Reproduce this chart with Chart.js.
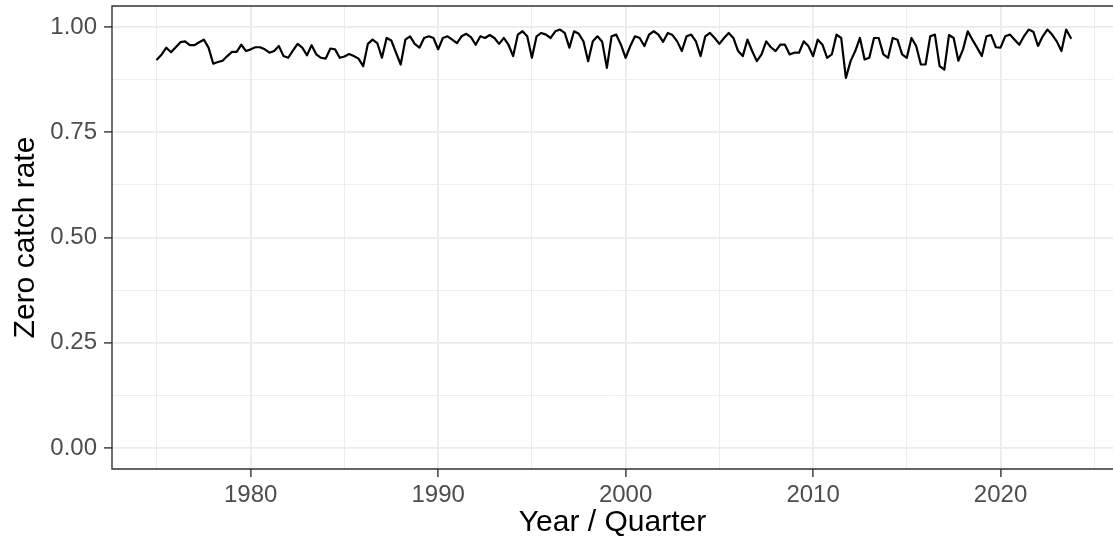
<!DOCTYPE html>
<html>
<head>
<meta charset="utf-8">
<script src="https://cdn.jsdelivr.net/npm/chart.js@4/dist/chart.umd.min.js"></script>
<style>
  html, body { margin: 0; padding: 0; background: #ffffff; overflow: hidden; }
  #wrap { width: 1113px; height: 545px; }
</style>
</head>
<body>
<div id="wrap"><canvas id="chart" width="1113" height="545"></canvas></div>
<script>
// Quarterly zero catch rate, one array per five-year block (Q1..Q4 per year)
const firstYear = 1975;
const rates1975 = [0.923, 0.935, 0.951, 0.940, 0.952, 0.964, 0.966, 0.957, 0.957, 0.964,
                   0.970, 0.951, 0.913, 0.917, 0.920, 0.931, 0.941, 0.941, 0.958, 0.943];
const rates1980 = [0.947, 0.952, 0.952, 0.947, 0.939, 0.943, 0.955, 0.931, 0.927, 0.944,
                   0.960, 0.951, 0.933, 0.957, 0.935, 0.927, 0.925, 0.949, 0.947, 0.927];
const rates1985 = [0.930, 0.936, 0.931, 0.925, 0.907, 0.960, 0.970, 0.962, 0.927, 0.974,
                   0.968, 0.939, 0.911, 0.970, 0.978, 0.960, 0.951, 0.974, 0.978, 0.974];
const rates1990 = [0.947, 0.974, 0.978, 0.970, 0.962, 0.978, 0.984, 0.976, 0.958, 0.978,
                   0.974, 0.981, 0.974, 0.960, 0.974, 0.958, 0.931, 0.982, 0.990, 0.978];
const rates1995 = [0.927, 0.978, 0.986, 0.982, 0.974, 0.990, 0.994, 0.986, 0.951, 0.990,
                   0.984, 0.966, 0.919, 0.966, 0.978, 0.965, 0.903, 0.978, 0.982, 0.958];
const rates2000 = [0.927, 0.955, 0.978, 0.974, 0.955, 0.982, 0.990, 0.982, 0.965, 0.986,
                   0.981, 0.966, 0.943, 0.978, 0.982, 0.966, 0.931, 0.978, 0.986, 0.974];
const rates2005 = [0.960, 0.974, 0.986, 0.974, 0.943, 0.931, 0.970, 0.943, 0.919, 0.935,
                   0.966, 0.952, 0.943, 0.958, 0.958, 0.935, 0.939, 0.939, 0.966, 0.955];
const rates2010 = [0.931, 0.970, 0.958, 0.927, 0.935, 0.982, 0.974, 0.879, 0.919, 0.943,
                   0.974, 0.923, 0.927, 0.974, 0.974, 0.935, 0.927, 0.974, 0.970, 0.935];
const rates2015 = [0.927, 0.974, 0.955, 0.911, 0.911, 0.978, 0.982, 0.907, 0.899, 0.981,
                   0.974, 0.920, 0.947, 0.990, 0.970, 0.951, 0.931, 0.978, 0.981, 0.952];
const rates2020 = [0.951, 0.978, 0.982, 0.970, 0.958, 0.978, 0.994, 0.989, 0.955, 0.978,
                   0.994, 0.982, 0.966, 0.943, 0.994, 0.974];

const xLimits = [1972.6, 2026.0];      // visible year range of the panel
const yLimits = [-0.05, 1.05];
const xTicks = [1975, 1980, 1985, 1990, 1995, 2000, 2005, 2010, 2015, 2020, 2025];
const xLabelled = [1980, 1990, 2000, 2010, 2020];
const yTicks = [0, 0.125, 0.25, 0.375, 0.5, 0.625, 0.75, 0.875, 1];
const yLabelled = [0, 0.25, 0.5, 0.75, 1];

const allRates = [].concat(rates1975, rates1980, rates1985, rates1990, rates1995,
                           rates2000, rates2005, rates2010, rates2015, rates2020);
const points = allRates.map((r, i) => ({ x: firstYear + i / 4, y: r }));

const FONT = "'Liberation Sans', Arial, Helvetica, sans-serif";
const GRID = '#ebebeb';
const INK = '#333333';

const isMajorX = v => xLabelled.includes(v);
const isMajorY = v => yLabelled.some(t => Math.abs(t - v) < 1e-9);

// no extra room reserved for overhanging edge labels
const noLabelPadding = axis => {
  axis.paddingTop = 0; axis.paddingBottom = 0;
  axis.paddingLeft = 0; axis.paddingRight = 0;
};

// panel frame: top, left and bottom edges (the right edge lies past the canvas)
const panelBorder = {
  id: 'panelBorder',
  afterDraw(chart) {
    const { ctx, chartArea: a } = chart;
    ctx.save();
    ctx.strokeStyle = INK;
    ctx.lineWidth = 1.4;
    ctx.beginPath();
    ctx.moveTo(a.right + 2, a.top);
    ctx.lineTo(a.left, a.top);
    ctx.lineTo(a.left, a.bottom);
    ctx.lineTo(a.right + 2, a.bottom);
    ctx.stroke();
    ctx.restore();
  }
};

new Chart(document.getElementById('chart'), {
  type: 'line',
  data: {
    datasets: [{
      data: points,
      borderColor: '#000000',
      borderWidth: 2.2,
      pointRadius: 0,
      tension: 0,
      borderJoinStyle: 'round',
      borderCapStyle: 'round'
    }]
  },
  options: {
    responsive: false,
    devicePixelRatio: 1,
    animation: false,
    layout: { padding: { top: 6, right: 0, bottom: 0, left: 0 } },
    plugins: { legend: { display: false }, tooltip: { enabled: false } },
    scales: {
      x: {
        type: 'linear',
        min: xLimits[0],
        max: xLimits[1],
        afterBuildTicks: axis => { axis.ticks = xTicks.map(v => ({ value: v })); },
        afterFit: axis => { axis.height = 76; noLabelPadding(axis); },
        border: { display: false },
        grid: {
          color: c => GRID,
          lineWidth: c => (c.tick && isMajorX(c.tick.value)) ? 1.8 : 0.9,
          tickLength: 8,
          tickColor: c => (c.tick && isMajorX(c.tick.value)) ? INK : 'rgba(0,0,0,0)',
          tickWidth: 1.4
        },
        ticks: {
          autoSkip: false,
          maxRotation: 0,
          padding: 4,
          color: '#4d4d4d',
          font: { family: FONT, size: 24 },
          callback: v => isMajorX(v) ? String(v) : ''
        },
        title: {
          display: true,
          text: 'Year / Quarter',
          color: '#000000',
          font: { family: FONT, size: 30 },
          padding: { top: 0, bottom: 4 }
        }
      },
      y: {
        type: 'linear',
        min: yLimits[0],
        max: yLimits[1],
        afterBuildTicks: axis => { axis.ticks = yTicks.map(v => ({ value: v })); },
        afterFit: axis => { axis.width = 112; noLabelPadding(axis); },
        border: { display: false },
        grid: {
          color: c => GRID,
          lineWidth: c => (c.tick && isMajorY(c.tick.value)) ? 1.8 : 0.9,
          tickLength: 8,
          tickColor: c => (c.tick && isMajorY(c.tick.value)) ? INK : 'rgba(0,0,0,0)',
          tickWidth: 1.4
        },
        ticks: {
          autoSkip: false,
          padding: 7,
          color: '#4d4d4d',
          font: { family: FONT, size: 24 },
          callback: v => isMajorY(v) ? v.toFixed(2) : ''
        },
        title: {
          display: true,
          text: 'Zero catch rate',
          color: '#000000',
          font: { family: FONT, size: 30 },
          padding: { top: 8, bottom: 0 }
        }
      }
    }
  },
  plugins: [panelBorder]
});
</script>
</body>
</html>
